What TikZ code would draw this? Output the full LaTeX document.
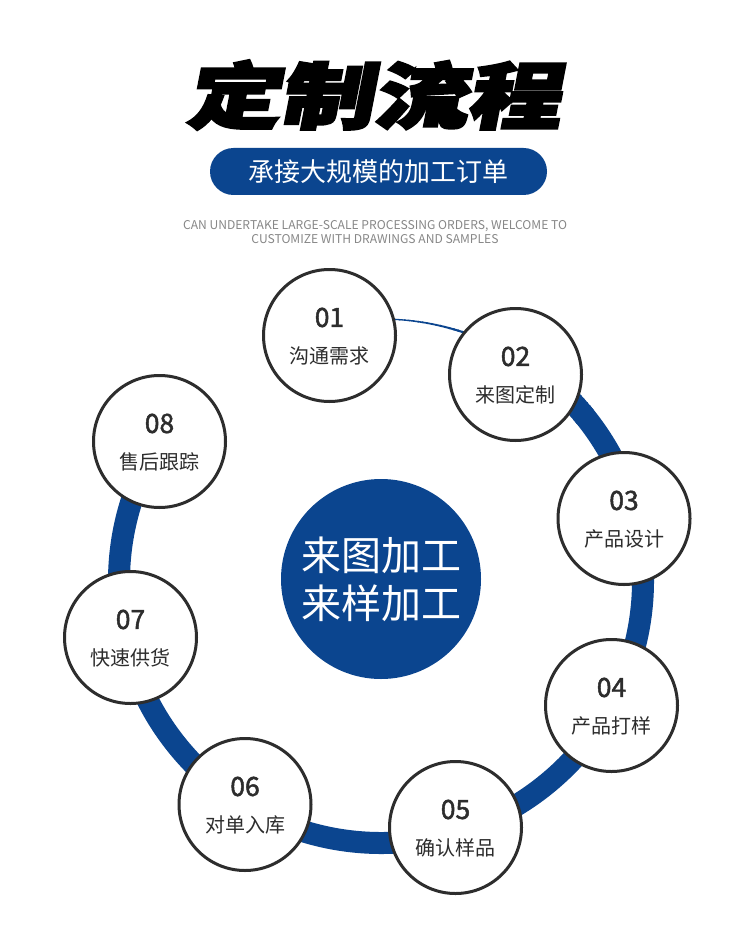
\documentclass[tikz,border=0pt]{standalone}
\usepackage{fontspec}
\usetikzlibrary{calc}
\newfontfamily\cjk{Noto Sans CJK SC}
\newfontfamily\numfont[FakeBold=1.8]{Noto Sans CJK SC}
\newfontfamily\titlefont[FakeSlant=0.15,FakeBold=3.5]{Noto Sans CJK SC}
\definecolor{myblue}{RGB}{11,69,143}
\definecolor{ink}{RGB}{45,45,45}
\definecolor{engray}{RGB}{135,135,135}
\tikzset{
  stepcircle/.style={circle, draw=ink, line width=3pt, fill=white, minimum size=132pt, inner sep=0pt},
  numtext/.style={text=ink, font=\numfont\fontsize{26.5}{26.5}\selectfont, inner sep=0pt},
  labtext/.style={text=ink, font=\cjk\fontsize{20}{20}\selectfont, inner sep=0pt},
  coretext/.style={text=white, font=\cjk\fontsize{40}{40}\selectfont, inner sep=0pt},
}
\begin{document}
\begin{tikzpicture}[x=1pt,y=-1pt]
\useasboundingbox[fill=white] (0,0) rectangle (750,933);
% title
\node[inner sep=0pt, xscale=1.3, font=\titlefont\bfseries\fontsize{72}{72}\selectfont] (title) at (373,95) {定制流程};
\node[fill=myblue, rounded corners=23.5pt, minimum width=337pt, minimum height=47pt, inner sep=0pt, text=white, font=\cjk\fontsize{26}{26}\selectfont] (pill) at (378.5,171.5) {承接大规模的加工订单};
\node[align=center, text=engray, inner sep=0pt, font=\cjk\fontsize{12.1}{14.5}\selectfont] (en) at (375,232) {CAN UNDERTAKE LARGE-SCALE PROCESSING ORDERS, WELCOME TO\\CUSTOMIZE WITH DRAWINGS AND SAMPLES};
% ring
\coordinate (rc) at (381,581);
\foreach \a in {95,...,40} {
  \pgfmathsetmacro\w{\a>72 ? 0.8+(95-\a)*0.06 : min(22,2.2+(72-\a)*0.74)}
  \draw[myblue, line width=\w pt] ($(rc)+(\a:262pt)$) arc[start angle=\a, end angle=\a-1.3, radius=262pt];
}
\draw[myblue, line width=22pt] ($(rc)+(40:262pt)$) arc[start angle=40, end angle=-205, radius=262pt];
% center disk
\node[circle, fill=myblue, minimum size=200pt, inner sep=0pt] (core) at (381,579) {};
\path (core) ++(0,-24) node[coretext] (c1) {来图加工};
\path (core) ++(0,24) node[coretext] (c2) {来样加工};
% steps
\node[stepcircle] (s1) at (329.5,335.5) {};
\node[stepcircle] (s2) at (515.5,374.5) {};
\node[stepcircle] (s3) at (624,518.5) {};
\node[stepcircle] (s4) at (611.5,705.5) {};
\node[stepcircle] (s5) at (455.5,827.5) {};
\node[stepcircle] (s6) at (245,804.5) {};
\node[stepcircle] (s7) at (130.5,637.5) {};
\node[stepcircle] (s8) at (159.5,441.5) {};
\foreach \n/\num/\lab in {s1/01/沟通需求, s2/02/来图定制, s3/03/产品设计, s4/04/产品打样, s5/05/确认样品, s6/06/对单入库, s7/07/快速供货, s8/08/售后跟踪} {
  \path (\n) ++(0,-18) node[numtext] (\n num) {\num};
  \path (\n) ++(0,20) node[labtext] (\n lab) {\lab};
}
\end{tikzpicture}
\end{document}
